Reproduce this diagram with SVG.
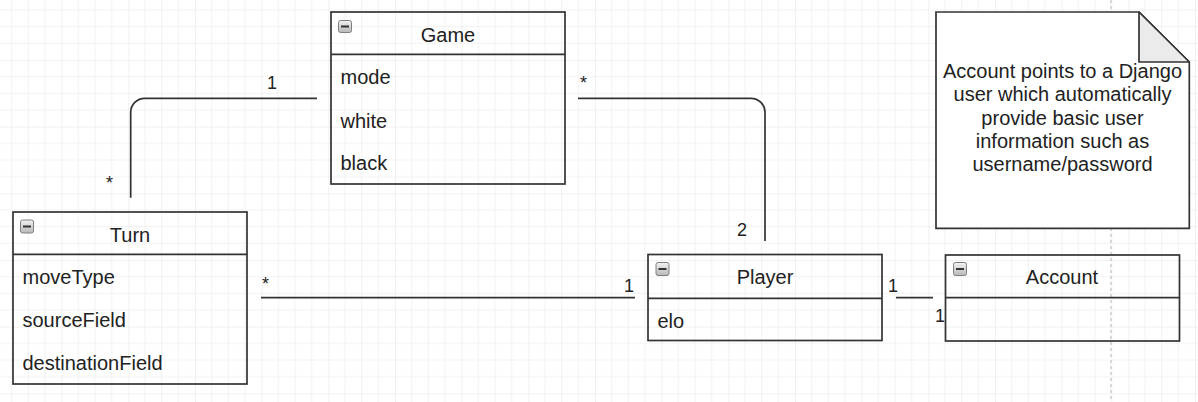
<svg xmlns="http://www.w3.org/2000/svg" width="1198" height="402" viewBox="0 0 1198 402">
<style>
.box{fill:none;stroke:#333;stroke-width:1.7}
.sep{stroke:#333;stroke-width:1.7}
.t{font-family:"Liberation Sans",Arial,sans-serif;font-size:20px;fill:#222}
.c{text-anchor:middle}
.lbl{font-family:"Liberation Sans",Arial,sans-serif;font-size:18px;fill:#222}
.edge{fill:none;stroke:#333;stroke-width:1.7}
.ico{fill:url(#icog);stroke:#808080;stroke-width:1}
.icom{stroke:#333;stroke-width:2}
</style>
<defs>
<linearGradient id="icog" x1="0" y1="0" x2="0" y2="1">
<stop offset="0" stop-color="#f2f2f2"/>
<stop offset="1" stop-color="#b8b8b8"/>
</linearGradient>
<pattern id="grid" patternUnits="userSpaceOnUse" x="-5" y="-6.667" width="66.667" height="66.667">
<path d="M16.667,0V66.667M33.333,0V66.667M50,0V66.667M0,16.667H66.667M0,33.333H66.667M0,50H66.667" stroke="#f2f2f2" stroke-width="1" fill="none"/>
<path d="M0,0V66.667M0,0H66.667" stroke="#e4e4e4" stroke-width="1" fill="none"/>
</pattern>
</defs>
<rect width="1198" height="402" fill="#ffffff"/>
<rect width="1198" height="402" fill="url(#grid)"/>
<line x1="1111" y1="0" x2="1111" y2="402" stroke="#cccccc" stroke-width="1.5" stroke-dasharray="3,3"/>

<g id="connectors">
<path class="edge" d="M317,98.3H144.7A14,14 0 0 0 130.7,112.3V197.7"/>
<path class="edge" d="M578,98.3H751A14,14 0 0 1 765,112.3V241"/>
<path class="edge" d="M261,297.7H635"/>
<path class="edge" d="M896,297.7H933"/>
<text class="lbl" x="267" y="89">1</text>
<text class="lbl" x="106" y="189">*</text>
<text class="lbl" x="580" y="89">*</text>
<text class="lbl" x="737" y="236">2</text>
<text class="lbl" x="262" y="290">*</text>
<text class="lbl" x="624" y="292">1</text>
<text class="lbl" x="888" y="292">1</text>
<text class="lbl" x="935" y="322">1</text>
</g>

<g id="game">
<rect class="box" x="331" y="12" width="234" height="172"/>
<line class="sep" x1="331" y1="54.3" x2="565" y2="54.3"/>
<rect class="ico" x="338.5" y="20.5" width="13" height="12" rx="2"/>
<line class="icom" x1="341" y1="26.5" x2="349" y2="26.5"/>
<text class="t c" x="448" y="41.5">Game</text>
<text class="t" x="340.5" y="84.3">mode</text>
<text class="t" x="340.5" y="127.7">white</text>
<text class="t" x="340.5" y="170">black</text>
</g>

<g id="turn">
<rect class="box" x="13" y="212" width="234" height="172"/>
<line class="sep" x1="13" y1="254.3" x2="247" y2="254.3"/>
<rect class="ico" x="20.5" y="220" width="13" height="13" rx="2"/>
<line class="icom" x1="23" y1="226.5" x2="31" y2="226.5"/>
<text class="t c" x="130" y="241.7">Turn</text>
<text class="t" x="22.5" y="284.3">moveType</text>
<text class="t" x="22.5" y="327.3">sourceField</text>
<text class="t" x="22.5" y="370">destinationField</text>
</g>

<g id="player">
<rect class="box" x="648" y="254.5" width="234" height="86"/>
<line class="sep" x1="648" y1="298.3" x2="882" y2="298.3"/>
<rect class="ico" x="656" y="262.5" width="13" height="13" rx="2"/>
<line class="icom" x1="658.5" y1="269" x2="666.5" y2="269"/>
<text class="t c" x="765" y="284">Player</text>
<text class="t" x="657.5" y="327.7">elo</text>
</g>

<g id="account">
<rect class="box" x="945.5" y="255" width="234" height="86"/>
<line class="sep" x1="945.5" y1="297.7" x2="1179.5" y2="297.7"/>
<rect class="ico" x="953.5" y="262.5" width="13" height="13" rx="2"/>
<line class="icom" x1="956" y1="269" x2="964" y2="269"/>
<text class="t c" x="1062" y="284">Account</text>
</g>

<g id="note">
<path d="M936,12H1139L1189.3,62V228.3H936Z" fill="#ffffff" stroke="#333" stroke-width="1.7"/>
<path d="M1139,12V62H1189.3Z" fill="#ebebeb" stroke="#333" stroke-width="1.7" stroke-linejoin="round"/>
<text class="t c" x="1062.5" y="78">Account points to a Django</text>
<text class="t c" x="1062.5" y="101.3">user which automatically</text>
<text class="t c" x="1062.5" y="124.7">provide basic user</text>
<text class="t c" x="1062.5" y="148">information such as</text>
<text class="t c" x="1062.5" y="171.3">username/password</text>
</g>
</svg>
